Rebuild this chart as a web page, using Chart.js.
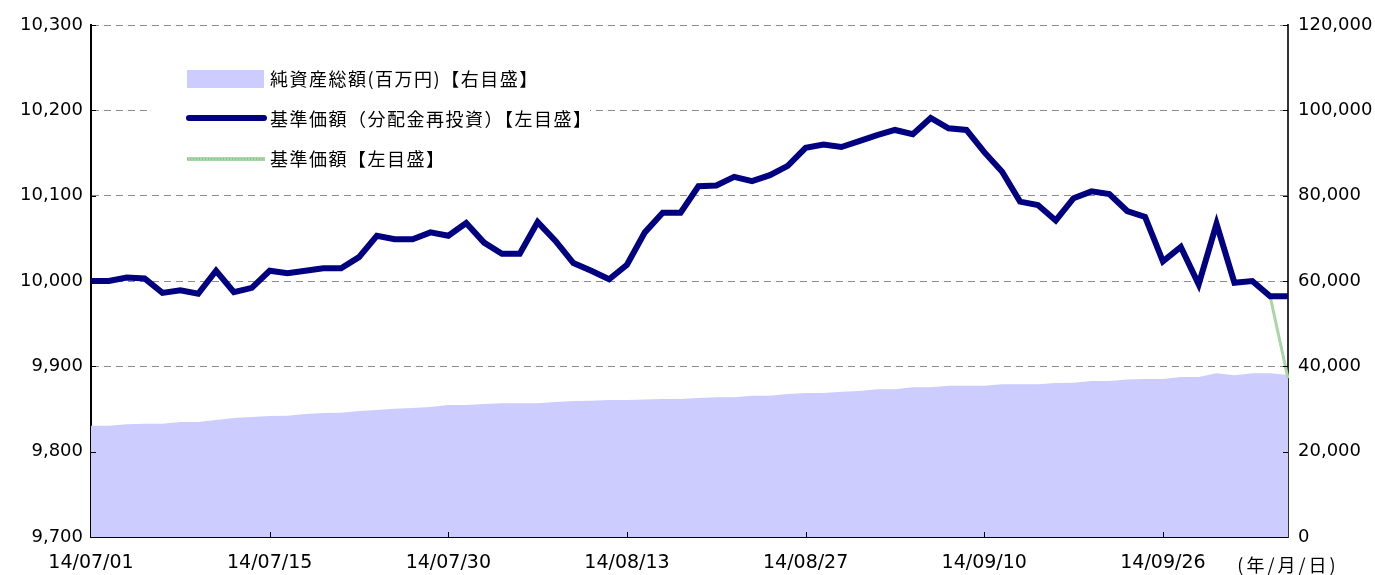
<!DOCTYPE html>
<html>
<head>
<meta charset="utf-8">
<script src="https://cdn.jsdelivr.net/npm/chart.js@4/dist/chart.umd.min.js"></script>
<style>
	html, body { margin: 0; padding: 0; background: #fff; }
	#wrap { width: 1375px; height: 575px; }
</style>
</head>
<body>
<div id="wrap"><canvas id="fund-chart" width="1375" height="575"></canvas></div>
<script>
const colNavy = "#000080";
const colGreen = "#a9d6a9";
const colArea = "#ccccff";
const fontFamily = "'Noto Sans CJK JP', 'Noto Sans', sans-serif";
const tickFamily = "'DejaVu Sans', 'Noto Sans CJK JP', sans-serif";

const dates = [
	"14/07/01", "14/07/02", "14/07/03", "14/07/04", "14/07/07", "14/07/08", "14/07/09", "14/07/10", "14/07/11", "14/07/14",
	"14/07/15", "14/07/16", "14/07/17", "14/07/18", "14/07/22", "14/07/23", "14/07/24", "14/07/25", "14/07/28", "14/07/29",
	"14/07/30", "14/07/31", "14/08/01", "14/08/04", "14/08/05", "14/08/06", "14/08/07", "14/08/08", "14/08/11", "14/08/12",
	"14/08/13", "14/08/14", "14/08/15", "14/08/18", "14/08/19", "14/08/20", "14/08/21", "14/08/22", "14/08/25", "14/08/26",
	"14/08/27", "14/08/28", "14/08/29", "14/09/01", "14/09/02", "14/09/03", "14/09/04", "14/09/05", "14/09/08", "14/09/09",
	"14/09/10", "14/09/11", "14/09/12", "14/09/16", "14/09/17", "14/09/18", "14/09/19", "14/09/22", "14/09/24", "14/09/25",
	"14/09/26", "14/09/29", "14/09/30", "14/10/01", "14/10/02", "14/10/03", "14/10/06", "14/10/07",
];

// 基準価額（分配金再投資）
const navReinvested = [
	10000, 10000, 10004, 10003, 9986, 9989, 9985, 10012, 9987, 9992,
	10012, 10009, 10012, 10015, 10015, 10028, 10053, 10049, 10049, 10057,
	10053, 10068, 10045, 10032, 10032, 10069, 10047, 10021, 10012, 10002,
	10019, 10057, 10080, 10080, 10111, 10112, 10122, 10117, 10124, 10135,
	10156, 10160, 10157, 10164, 10171, 10177, 10172, 10191, 10179, 10177,
	10151, 10128, 10093, 10089, 10071, 10097, 10105, 10102, 10082, 10075,
	10023, 10040, 9996, 10067, 9998, 10000, 9982, 9982,
];

// 基準価額
const nav = [
	10000, 10000, 10004, 10003, 9986, 9989, 9985, 10012, 9987, 9992,
	10012, 10009, 10012, 10015, 10015, 10028, 10053, 10049, 10049, 10057,
	10053, 10068, 10045, 10032, 10032, 10069, 10047, 10021, 10012, 10002,
	10019, 10057, 10080, 10080, 10111, 10112, 10122, 10117, 10124, 10135,
	10156, 10160, 10157, 10164, 10171, 10177, 10172, 10191, 10179, 10177,
	10151, 10128, 10093, 10089, 10071, 10097, 10105, 10102, 10082, 10075,
	10023, 10040, 9996, 10067, 9998, 10000, 9982, 9886,
];

// 純資産総額（百万円）
const netAssets = [
	26090, 26090, 26410, 26550, 26550, 26950, 26950, 27420, 27890, 28120,
	28360, 28430, 28830, 29060, 29130, 29530, 29770, 30070, 30230, 30470,
	30940, 30940, 31170, 31340, 31340, 31340, 31640, 31880, 31950, 32110,
	32110, 32230, 32340, 32340, 32580, 32740, 32740, 33120, 33120, 33520,
	33750, 33750, 34060, 34220, 34620, 34620, 35090, 35090, 35460, 35460,
	35460, 35790, 35790, 35790, 36090, 36160, 36560, 36560, 36910, 37030,
	37030, 37500, 37500, 38370, 37900, 38370, 38370, 37970,
];

const legendLabels = [
	"純資産総額(百万円)【右目盛】",
	"基準価額（分配金再投資）【左目盛】",
	"基準価額【左目盛】",
];
const axisUnit = "(年/月/日)";

const fmt = (v) => Number(v).toLocaleString("en-US");

// legend box (white background over the grid), tick marks inside and the unit text
const extras = {
	id: "extras",
	beforeDatasetsDraw(chart) {
		const ctx = chart.ctx;
		ctx.save();
		ctx.fillStyle = "#ffffff";
		ctx.fillRect(150, 48, 440, 128);

		// 純資産総額
		ctx.fillStyle = colArea;
		ctx.fillRect(187, 70, 77, 18);
		// 基準価額（分配金再投資）
		ctx.strokeStyle = colNavy;
		ctx.lineWidth = 6;
		ctx.lineCap = "round";
		ctx.beginPath();
		ctx.moveTo(189, 118);
		ctx.lineTo(264, 118);
		ctx.stroke();
		// 基準価額
		ctx.lineCap = "butt";
		ctx.strokeStyle = colGreen;
		ctx.lineWidth = 4;
		ctx.beginPath();
		ctx.moveTo(187, 159);
		ctx.lineTo(265, 159);
		ctx.stroke();
		ctx.strokeStyle = "#8cc48c";
		ctx.lineWidth = 2;
		ctx.setLineDash([1, 2]);
		ctx.beginPath();
		ctx.moveTo(187, 159);
		ctx.lineTo(265, 159);
		ctx.stroke();
		ctx.setLineDash([]);

		ctx.fillStyle = "#000";
		ctx.font = "18px " + fontFamily;
		ctx.letterSpacing = "1.5px";
		ctx.textAlign = "left";
		ctx.textBaseline = "middle";
		ctx.fillText(legendLabels[0], 270, 79);
		ctx.fillText(legendLabels[1], 270, 119);
		ctx.fillText(legendLabels[2], 270, 159);
		ctx.restore();
	},
	afterDraw(chart) {
		const ctx = chart.ctx;
		const area = chart.chartArea;
		const x = chart.scales.x;
		const y = chart.scales.y;
		const y1 = chart.scales.y1;
		ctx.save();
		ctx.strokeStyle = "#000";
		ctx.lineWidth = 1;
		ctx.beginPath();
		x.ticks.forEach((t) => {
			if (t.value % 10 === 0 && t.value > 0) {
				const px = Math.round(x.getPixelForValue(t.value)) + 0.5;
				ctx.moveTo(px, area.bottom);
				ctx.lineTo(px, area.bottom - 5);
			}
		});
		y.ticks.forEach((t) => {
			const py = Math.round(y.getPixelForValue(t.value)) + 0.5;
			ctx.moveTo(area.left, py);
			ctx.lineTo(area.left + 5, py);
		});
		y1.ticks.forEach((t) => {
			const py = Math.round(y1.getPixelForValue(t.value)) + 0.5;
			ctx.moveTo(area.right, py);
			ctx.lineTo(area.right - 5, py);
		});
		ctx.stroke();

		ctx.fillStyle = "#000";
		ctx.font = "18px " + fontFamily;
		ctx.letterSpacing = "3px";
		ctx.textAlign = "center";
		ctx.textBaseline = "middle";
		ctx.fillText(axisUnit, 1288, 565);
		ctx.restore();
	},
};

new Chart(document.getElementById("fund-chart"), {
	type: "line",
	data: {
		labels: dates,
		datasets: [
			{
				label: legendLabels[1],
				data: navReinvested,
				yAxisID: "y",
				borderColor: colNavy,
				borderWidth: 6,
				pointRadius: 0,
				tension: 0,
				fill: false,
				order: 0,
			},
			{
				label: legendLabels[2],
				data: nav,
				yAxisID: "y",
				borderColor: colGreen,
				borderWidth: 3,
				pointRadius: 0,
				tension: 0,
				fill: false,
				order: 1,
			},
			{
				label: legendLabels[0],
				data: netAssets,
				yAxisID: "y1",
				borderWidth: 0,
				borderColor: colArea,
				backgroundColor: colArea,
				pointRadius: 0,
				tension: 0,
				fill: "origin",
				order: 2,
			},
		],
	},
	options: {
		responsive: false,
		animation: false,
		devicePixelRatio: 1,
		layout: {
			padding: { top: 25, left: 0, right: 0, bottom: 0 },
		},
		plugins: {
			legend: { display: false },
			tooltip: { enabled: false },
		},
		scales: {
			x: {
				offset: false,
				afterFit: (scale) => { scale.height = 38; },
				grid: { display: false, drawTicks: false },
				border: { display: true, color: "#000", width: 2 },
				ticks: {
					autoSkip: false,
					maxRotation: 0,
					padding: 15,
					color: "#000",
					font: { family: tickFamily, size: 19 },
					callback: function (value, index) {
						return index % 10 === 0 ? this.getLabelForValue(value) : "";
					},
				},
			},
			y: {
				position: "left",
				min: 9700,
				max: 10300,
				afterFit: (scale) => { scale.width = 91; },
				grid: {
					color: "#8c8c8c",
					lineWidth: 1,
					drawTicks: false,
				},
				border: { display: true, color: "#000", width: 2, dash: [7, 5] },
				ticks: {
					stepSize: 100,
					padding: 8,
					color: "#000",
					font: { family: tickFamily, size: 18 },
					callback: (v) => fmt(v),
				},
			},
			y1: {
				position: "right",
				min: 0,
				max: 120000,
				afterFit: (scale) => { scale.width = 87; },
				grid: { display: false, drawTicks: false },
				border: { display: true, color: "#333", width: 2 },
				ticks: {
					stepSize: 20000,
					padding: 10,
					color: "#000",
					font: { family: tickFamily, size: 18 },
					callback: (v) => fmt(v),
				},
			},
		},
	},
	plugins: [extras],
});
</script>
</body>
</html>
